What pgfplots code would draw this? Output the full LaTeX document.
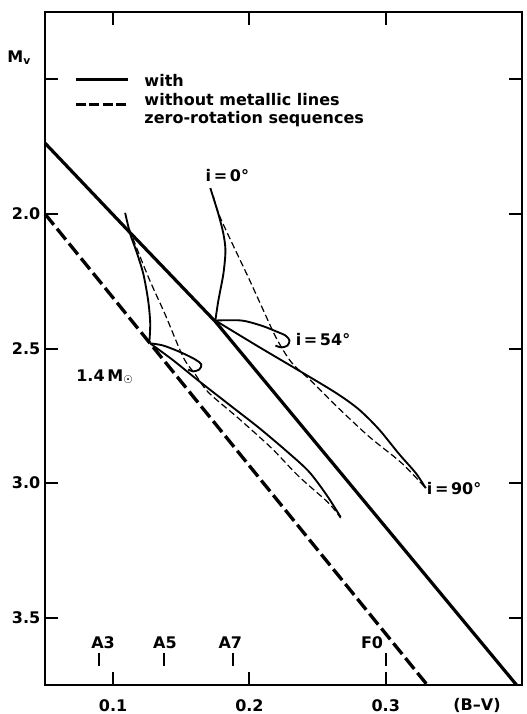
\documentclass[border=0pt]{standalone}
\usepackage{fontspec}
\setmainfont{DejaVu Sans}
\newfontfamily\sym{DejaVu Sans}
\usepackage{pgfplots}
\pgfplotsset{compat=1.18}
\tikzset{lab/.style={font=\bfseries\fontsize{12}{14}\selectfont}}
\begin{document}
\begin{tikzpicture}
\begin{axis}[
  scale only axis, width=357.75pt, height=504.75pt,
  xmin=0.05, xmax=0.4, ymin=1.25, ymax=3.75, y dir=reverse,
  axis line style={line width=1.6pt},
  tick style={line width=1.5pt, black},
  major tick length=10pt,
  tick align=inside, tick pos=both,
  xtick={0.1,0.2,0.3}, xticklabels={0.1,0.2,0.3},
  ytick={1.5,2,2.5,3,3.5}, yticklabels={,2.0,2.5,3.0,3.5},
  ticklabel style={font=\bfseries\fontsize{12}{14}\selectfont},
  xticklabel style={anchor=base, yshift=-19.5pt},
  /pgf/number format/assume math mode=true,
  clip=false,
]
% zero-rotation sequence with metallic lines
\addplot[black, line width=2.4pt] coordinates {(0.05,1.737) (0.1125,2.070) (0.175,2.400) (0.396,3.75)};
% zero-rotation sequence without metallic lines
\addplot[black, line width=2.5pt, dash pattern=on 10.5pt off 3.8pt] coordinates {(0.05,2.0) (0.3305,3.75)};

% right group
\addplot[black, line width=1.4pt, smooth] coordinates {(0.175,2.396) (0.1772,2.322) (0.1809,2.222) (0.1824,2.137) (0.1809,2.074) (0.1772,2.000) (0.1713,1.904)};
\addplot[black, line width=0.9pt, dash pattern=on 5pt off 2.5pt, smooth] coordinates {(0.1735,1.933) (0.1787,2.015) (0.1993,2.237) (0.2103,2.359) (0.2199,2.463) (0.2309,2.552) (0.2456,2.622) (0.2632,2.711) (0.2875,2.826) (0.3118,2.926) (0.3294,3.019)};
\addplot[black, line width=1.4pt, smooth] coordinates {(0.175,2.396) (0.1941,2.396) (0.2088,2.415) (0.2199,2.437) (0.2265,2.452) (0.2294,2.470) (0.2279,2.489) (0.2235,2.496) (0.2191,2.489)};
\addplot[black, line width=1.4pt, smooth] coordinates {(0.175,2.396) (0.2066,2.493) (0.2360,2.581) (0.2632,2.664) (0.2800,2.725) (0.2950,2.800) (0.3100,2.893) (0.3221,2.963) (0.3294,3.019)};

% left group
\addplot[black, line width=1.4pt, smooth] coordinates {(0.1265,2.481) (0.1272,2.407) (0.1257,2.322) (0.1221,2.222) (0.1169,2.137) (0.1125,2.074) (0.1088,1.996)};
\addplot[black, line width=0.9pt, dash pattern=on 5pt off 2.5pt, smooth] coordinates {(0.1118,2.056) (0.1257,2.233) (0.1382,2.374) (0.1515,2.533) (0.1603,2.596) (0.1699,2.663) (0.1919,2.759) (0.2162,2.870) (0.2360,2.974) (0.2581,3.074) (0.2669,3.130)};
\addplot[black, line width=1.4pt, smooth] coordinates {(0.1272,2.481) (0.1368,2.489) (0.1500,2.515) (0.1603,2.541) (0.1647,2.559) (0.1632,2.578) (0.1588,2.585) (0.1551,2.578)};
\addplot[black, line width=1.4pt, smooth] coordinates {(0.1272,2.481) (0.1441,2.544) (0.1625,2.619) (0.1868,2.715) (0.2066,2.793) (0.2265,2.878) (0.2434,2.956) (0.2566,3.044) (0.2669,3.126)};

% spectral type marks
\addplot[black, line width=1.7pt] coordinates {(0.0897,3.630) (0.0897,3.681)};
\addplot[black, line width=1.7pt] coordinates {(0.1375,3.630) (0.1375,3.681)};
\addplot[black, line width=1.7pt] coordinates {(0.188,3.630) (0.188,3.681)};
\addplot[black, line width=1.7pt] coordinates {(0.300,3.630) (0.300,3.681)};
\node[lab] at (axis cs:0.0926,3.593) {A3};
\node[lab] at (axis cs:0.138,3.593) {A5};
\node[lab] at (axis cs:0.186,3.593) {A7};
\node[lab] at (axis cs:0.290,3.593) {F0};

% legend
\draw[black, line width=2.2pt] (axis cs:0.0728,1.5) -- (axis cs:0.111,1.5);
\draw[black, line width=2.2pt, dash pattern=on 7.5pt off 2.5pt] (axis cs:0.0728,1.594) -- (axis cs:0.111,1.594);
\node[lab, anchor=base west, inner sep=0pt] at (axis cs:0.1228,1.526) {with};
\node[lab, anchor=base west, inner sep=0pt] at (axis cs:0.1228,1.598) {without metallic lines};
\node[lab, anchor=base west, inner sep=0pt] at (axis cs:0.1228,1.664) {zero-rotation sequences};

% labels
\node[lab] at (axis cs:0.031,1.42) {M\textsubscript{v}};
\node[lab] at (axis cs:0.1838,1.856) {i\,=\,0°};
\node[lab, anchor=west, inner sep=0pt] at (axis cs:0.2338,2.467) {i\,=\,54°};
\node[lab, anchor=west, inner sep=0pt] at (axis cs:0.330,3.019) {i\,=\,90°};
\node[lab, anchor=west, inner sep=0pt] at (axis cs:0.0728,2.604) {1.4\,M\textsubscript{\sym\bfseries ☉}};
\node[lab, anchor=base] at (axis cs:0.367,3.844) {(B–V)};
\end{axis}
\pgfresetboundingbox
\path[use as bounding box] ([shift={(-33.75pt,-21.75pt)}]current axis.south west) rectangle ([shift={(3.75pt,9pt)}]current axis.north east);
\end{tikzpicture}
\end{document}
